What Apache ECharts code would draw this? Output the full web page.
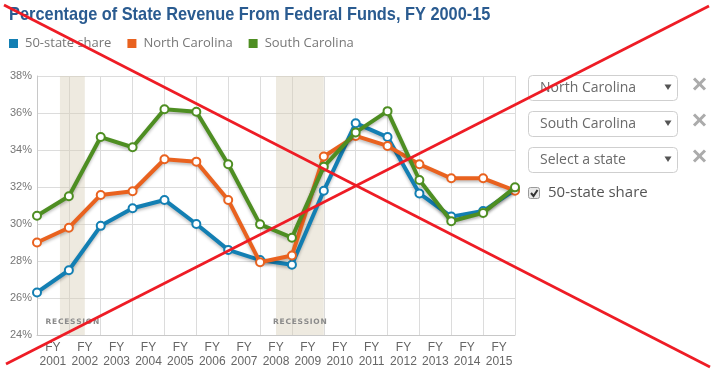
<!DOCTYPE html>
<html>
<head>
<meta charset="utf-8">
<script src="https://cdn.jsdelivr.net/npm/echarts@6/dist/echarts.min.js"></script>
<style>
  html, body { margin: 0; padding: 0; background: #fff; }
  #chart { width: 717px; height: 374px; }
</style>
</head>
<body>
<div id="chart"></div>
<script>
// ---- data ----
const years = [2000, 2001, 2002, 2003, 2004, 2005, 2006, 2007, 2008, 2009, 2010, 2011, 2012, 2013, 2014, 2015];
const tickLabels = ['FY\n2001', 'FY\n2002', 'FY\n2003', 'FY\n2004', 'FY\n2005', 'FY\n2006', 'FY\n2007', 'FY\n2008',
                    'FY\n2009', 'FY\n2010', 'FY\n2011', 'FY\n2012', 'FY\n2013', 'FY\n2014', 'FY\n2015'];
const fiftyStateShare = [26.3, 27.5, 29.9, 30.85, 31.3, 30.0, 28.6, 28.05, 27.8, 31.8, 35.45, 34.7, 31.65, 30.4, 30.7, 31.85];
const northCarolina   = [29.0, 29.8, 31.57, 31.77, 33.5, 33.37, 31.3, 27.93, 28.3, 33.65, 34.76, 34.22, 33.23, 32.47, 32.47, 31.8];
const southCarolina   = [30.45, 31.5, 34.7, 34.15, 36.2, 36.07, 33.23, 29.98, 29.26, 33.1, 34.95, 36.1, 32.38, 30.15, 30.6, 31.98];
const recessions = [[2000.72, 2001.5], [2007.5, 2009.0]];
const yTicks = { min: 24, max: 38, interval: 2 };
const seriesNames = ['50-state share', 'North Carolina', 'South Carolina'];
const dropdownLabels = ['North Carolina', 'South Carolina', 'Select a state'];
const titleText = 'Percentage of State Revenue From Federal Funds, FY 2000-15';

const colors = ['#137fb3', '#e9621f', '#4e8e22'];

const chart = echarts.init(document.getElementById('chart'));

function mkSeries(name, vals, color, z, extra) {
  return Object.assign({
    name: name,
    type: 'line',
    z: z,
    data: years.map((y, i) => [y, vals[i]]),
    symbol: 'circle',
    symbolSize: 8,
    showAllSymbol: true,
    color: color,
    lineStyle: { width: 4, color: color, shadowColor: 'rgba(0,0,0,0.25)', shadowBlur: 3, shadowOffsetY: 2 },
    itemStyle: { color: '#fff', borderColor: color, borderWidth: 2 },
    emphasis: { disabled: true },
    animation: false
  }, extra || {});
}

const graphics = [];
// title (narrow bold face, horizontally condensed)
graphics.push({
  type: 'text', x: 8, y: 15, scaleX: 0.86, originX: 8,
  style: { text: titleText, fill: '#2a5b90', font: 'bold 19px "Liberation Sans"', textVerticalAlign: 'middle' }
});
// dropdowns
dropdownLabels.forEach((lab, i) => {
  const top = 75 + i * 36;
  graphics.push({
    type: 'rect', shape: { x: 528.5, y: top + 0.5, width: 149, height: 25, r: 4 },
    style: { fill: '#fff', stroke: '#cfcfcf', lineWidth: 1 }
  });
  graphics.push({
    type: 'text', x: 540, y: top + 13,
    style: { text: lab, fill: '#6a6a6a', font: '14px "Open Sans"', textVerticalAlign: 'middle' }
  });
  graphics.push({
    type: 'polygon', shape: { points: [[664.5, top + 9.5], [671.5, top + 9.5], [668, top + 15]] },
    style: { fill: '#555' }
  });
  graphics.push({
    type: 'line', shape: { x1: 694, y1: top + 3.5, x2: 705, y2: top + 14.5 },
    style: { stroke: '#ababab', lineWidth: 3 }
  });
  graphics.push({
    type: 'line', shape: { x1: 705, y1: top + 3.5, x2: 694, y2: top + 14.5 },
    style: { stroke: '#ababab', lineWidth: 3 }
  });
});
// checkbox
graphics.push({
  type: 'rect', shape: { x: 528.5, y: 187.5, width: 11, height: 11, r: 2 },
  style: { fill: '#e9e9e9', stroke: '#9a9a9a', lineWidth: 1 }
});
graphics.push({
  type: 'polyline', shape: { points: [[531, 193], [533.5, 196], [537.5, 190]] },
  style: { stroke: '#333', lineWidth: 2, fill: null }
});
graphics.push({
  type: 'text', x: 548, y: 193,
  style: { text: '50-state share', fill: '#555', font: '15px "Open Sans"', textVerticalAlign: 'middle' }
});
// red cross-out lines
graphics.push({
  type: 'line', z: 100, shape: { x1: 4, y1: 5, x2: 710, y2: 367 },
  style: { stroke: '#ee1c25', lineWidth: 2.7 }
});
graphics.push({
  type: 'line', z: 100, shape: { x1: 6, y1: 364, x2: 709, y2: 6 },
  style: { stroke: '#ee1c25', lineWidth: 2.7 }
});

const option = {
  animation: false,
  backgroundColor: '#fff',
  legend: {
    data: seriesNames.map((n, i) => ({ name: n, itemStyle: { color: colors[i], borderWidth: 0 } })),
    left: 4, top: 32,
    icon: 'rect', itemWidth: 9, itemHeight: 9, itemGap: 16,
    selectedMode: false,
    textStyle: { fontFamily: 'Open Sans', fontSize: 13, color: '#777', padding: [0, 0, 0, 2] }
  },
  grid: { left: 37, right: 202, top: 76, bottom: 39 },
  xAxis: [
    {
      type: 'value', min: 2000, max: 2015, interval: 1,
      axisLabel: { show: false }, axisTick: { show: false },
      axisLine: { show: true, lineStyle: { color: '#c8c8c8', width: 1 } },
      splitLine: { show: true, lineStyle: { color: '#dcdcdc', width: 1 } }
    },
    {
      type: 'category', data: tickLabels, boundaryGap: true, position: 'bottom',
      axisLine: { show: false }, axisTick: { show: false }, splitLine: { show: false },
      axisLabel: { fontFamily: 'Liberation Sans', fontSize: 12, color: '#666', lineHeight: 14, margin: 6, interval: 0 }
    }
  ],
  yAxis: {
    type: 'value', min: yTicks.min, max: yTicks.max, interval: yTicks.interval,
    axisLabel: { formatter: '{value}%', fontFamily: 'Liberation Sans', fontSize: 11, color: '#777', margin: 5 },
    axisLine: { show: true, lineStyle: { color: '#c8c8c8' } },
    axisTick: { show: false },
    splitLine: { show: true, lineStyle: { color: '#dcdcdc' } }
  },
  series: [
    mkSeries(seriesNames[0], fiftyStateShare, colors[0], 2, {
      markArea: {
        silent: true,
        itemStyle: { color: 'rgba(214,205,180,0.42)' },
        label: {
          show: true, position: 'insideBottom', distance: 9,
          formatter: 'R\u200aE\u200aC\u200aE\u200aS\u200aS\u200aI\u200aO\u200aN',
          fontFamily: 'DejaVu Sans', fontWeight: 'bold', fontSize: 7.5, color: '#8a8a8a'
        },
        data: recessions.map(r => [{ xAxis: r[0] }, { xAxis: r[1] }])
      }
    }),
    mkSeries(seriesNames[1], northCarolina, colors[1], 3),
    mkSeries(seriesNames[2], southCarolina, colors[2], 4)
  ],
  graphic: graphics
};
chart.setOption(option);
</script>
</body>
</html>
